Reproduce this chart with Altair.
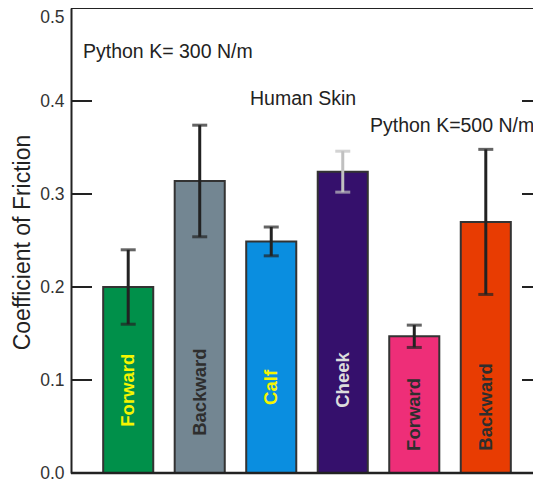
import altair as alt
import pandas as pd

# ---- data ----
bar_ids = ["F300", "B300", "Calf", "Cheek", "F500", "B500"]
bar_labels = ["Forward", "Backward", "Calf", "Cheek", "Forward", "Backward"]
values = [0.200, 0.314, 0.249, 0.324, 0.147, 0.270]
errors = [0.040, 0.060, 0.0155, 0.022, 0.012, 0.078]
bar_colors = ["#00904a", "#738692", "#0a8ee0", "#35106c", "#ee2e78", "#e83c02"]
label_colors = ["#f5f500", "#2e2e2e", "#f5f500", "#dcdcdc", "#2e2e2e", "#2e2e2e"]
err_colors = ["#222222", "#222222", "#222222", "#c0c0c0", "#222222", "#222222"]
label_y = [0.089, 0.087, 0.092, 0.100, 0.063, 0.071]
tick_values = [0.1, 0.2, 0.3, 0.4]
axis_values = [0.0, 0.1, 0.2, 0.3, 0.4, 0.5]

df = pd.DataFrame({
    "id": bar_ids,
    "label": bar_labels,
    "value": values,
    "lo": [v - e for v, e in zip(values, errors)],
    "hi": [v + e for v, e in zip(values, errors)],
    "barcolor": bar_colors,
    "labelcolor": label_colors,
    "errcolor": err_colors,
    "labely": label_y,
})
ticks_df = pd.DataFrame({"t": tick_values})

FONT = "Liberation Sans"
W, H = 462, 465      # visible plot area (frame continues off-page on the right)
FULL_W = 472         # full frame width of the original plot

yscale = alt.Scale(domain=[0, 0.5], nice=False)
xenc = alt.X("id:N", sort=bar_ids, axis=None,
             scale=alt.Scale(range=[0, FULL_W], paddingInner=0.3, paddingOuter=0.45))

bars = alt.Chart(df).mark_bar(stroke="#333333", strokeWidth=2).encode(
    x=xenc,
    y=alt.Y("value:Q", scale=yscale,
            axis=alt.Axis(values=axis_values, format=".1f", ticks=False, grid=False,
                          domainColor="#222222", domainWidth=2,
                          labelFont=FONT, labelFontSize=17.5, labelColor="#333333",
                          labelPadding=7,
                          labelBaseline={"condition": {"test": "datum.value == 0.5", "value": "top"},
                                         "value": "middle"},
                          title="Coefficient of Friction", titleFont=FONT,
                          titleFontSize=23, titleFontWeight="normal", titleColor="#222222",
                          titleX=-49, titleY=234, titleAngle=270,
                          titleAlign="center", titleBaseline="middle")),
    color=alt.Color("barcolor:N", scale=None),
)

err_rule = alt.Chart(df).mark_rule(strokeWidth=3).encode(
    x=xenc, y="lo:Q", y2="hi:Q", color=alt.Color("errcolor:N", scale=None))
cap_lo = alt.Chart(df).mark_tick(thickness=3, size=15).encode(
    x=xenc, y="lo:Q", color=alt.Color("errcolor:N", scale=None))
cap_hi = alt.Chart(df).mark_tick(thickness=3, size=15).encode(
    x=xenc, y="hi:Q", color=alt.Color("errcolor:N", scale=None))

bar_text = alt.Chart(df).mark_text(angle=270, font=FONT, fontSize=18.5, fontWeight="bold",
                                   align="center", baseline="middle").encode(
    x=xenc, y="labely:Q", text="label:N", color=alt.Color("labelcolor:N", scale=None))

left_ticks = alt.Chart(ticks_df).mark_rule(color="#222222", strokeWidth=2).encode(
    y="t:Q", x=alt.value(0), x2=alt.value(21))
right_ticks = alt.Chart(ticks_df).mark_rule(color="#222222", strokeWidth=2).encode(
    y="t:Q", x=alt.value(FULL_W - 21), x2=alt.value(FULL_W))

frame_top = alt.Chart(pd.DataFrame({"a": [0]})).mark_rule(color="#222222", strokeWidth=2).encode(
    y=alt.datum(0.5), x=alt.value(0), x2=alt.value(FULL_W))
frame_bottom = alt.Chart(pd.DataFrame({"a": [0]})).mark_rule(color="#222222", strokeWidth=2.5).encode(
    y=alt.datum(0.0), x=alt.value(0), x2=alt.value(FULL_W))

def note(text, px, yval):
    return alt.Chart(pd.DataFrame({"a": [0]})).mark_text(
        font=FONT, fontSize=19.5, color="#222222", align="left", baseline="middle", text=text
    ).encode(x=alt.value(px), y=alt.datum(yval))

notes = note("Python K= 300 N/m", 12, 0.453) + note("Human Skin", 179, 0.402) + \
    note("Python K=500 N/m", 299, 0.3726)

chart = alt.layer(bars, err_rule, cap_lo, cap_hi, bar_text, left_ticks, right_ticks,
                  frame_top, frame_bottom, notes).properties(
    width=W, height=H,
    autosize=alt.AutoSizeParams(type="none"),
    padding={"left": 63, "top": 0, "right": 0, "bottom": 9},
).configure_view(strokeWidth=0)

chart.save("out.html", embed_options={"renderer": "svg", "actions": False})
